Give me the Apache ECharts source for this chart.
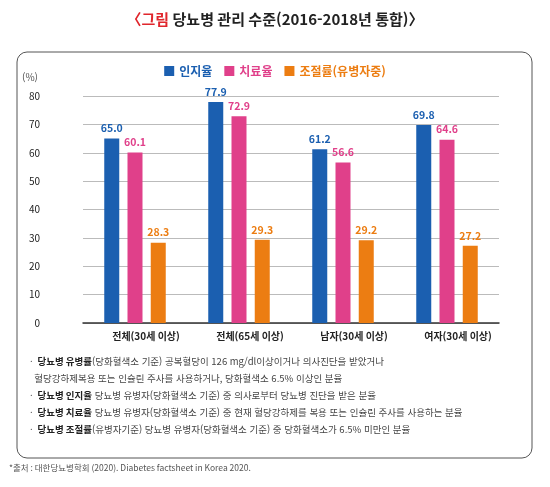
<!DOCTYPE html>
<html lang="ko">
<head>
<meta charset="UTF-8">
<style>
  * { margin: 0; padding: 0; }
  html, body { width: 100%; height: 100%; background: #fff; }
  #chart { width: 550px; height: 487px; }
</style>
</head>
<body>
<div id="chart"></div>
<script src="https://cdn.jsdelivr.net/npm/echarts@6/dist/echarts.min.js"></script>
<script>
var categories = ['전체(30세 이상)', '전체(65세 이상)', '남자(30세 이상)', '여자(30세 이상)'];
var awareness = [65.0, 77.9, 61.2, 69.8];
var treatment = [60.1, 72.9, 56.6, 64.6];
var control = [28.3, 29.3, 29.2, 27.2];
var seriesNames = ['인지율', '치료율', '조절률(유병자중)'];
var colors = ['#1b5fb0', '#e0408a', '#ec7d12'];

var notes = [
  ['· ', '당뇨병 유병률', '(당화혈색소 기준) 공복혈당이 126 mg/dl이상이거나 의사진단을 받았거나'],
  ['  ', '', '혈당강하제복용 또는 인슐린 주사를 사용하거나, 당화혈색소 6.5% 이상인 분율'],
  ['· ', '당뇨병 인지율', ' 당뇨병 유병자(당화혈색소 기준) 중 의사로부터 당뇨병 진단을 받은 분율'],
  ['· ', '당뇨병 치료율', ' 당뇨병 유병자(당화혈색소 기준) 중 현재 혈당강하제를 복용 또는 인슐린 주사를 사용하는 분율'],
  ['· ', '당뇨병 조절률', '(유병자기준) 당뇨병 유병자(당화혈색소 기준) 중 당화혈색소가 6.5% 미만인 분율']
];

var font = '"Noto Sans CJK KR", sans-serif';
var chart = echarts.init(document.getElementById('chart'));

var graphics = [
  { type: 'rect', shape: { x: 17, y: 52, width: 515, height: 406, r: 10 },
    style: { fill: '#fff', stroke: '#555', lineWidth: 1 }, z: -10 },
  { type: 'text', left: 'center', top: 12, style: {
      text: '{r|〈그림} 당뇨병 관리 수준(2016-2018년 통합)〉',
      rich: { r: { fill: '#e0262c', fontSize: 15, fontWeight: 'bold', fontFamily: font } },
      fill: '#222', fontSize: 15, fontWeight: 'bold', fontFamily: font } },
  { type: 'text', left: 22, top: 72, style: { text: '(%)', fill: '#555', fontSize: 10, fontFamily: font } },
  { type: 'text', left: 9, top: 464, style: {
      text: '*출처 : 대한당뇨병학회 (2020). Diabetes factsheet in Korea 2020.',
      fill: '#555', fontSize: 8.5, fontFamily: font } }
];
notes.forEach(function (n, i) {
  graphics.push({ type: 'text', left: 30, top: 357 + i * 17, style: {
    text: n[0] + '{b|' + n[1] + '}' + n[2],
    rich: { b: { fontWeight: 'bold', fill: '#222', fontSize: 9.5, fontFamily: font } },
    fill: '#444', fontSize: 9.5, fontFamily: font } });
});

var makeSeries = function (name, data, color) {
  return {
    name: name, type: 'bar', data: data, barWidth: 15, barGap: '55%',
    itemStyle: { color: color },
    label: { show: true, position: 'top', color: color, fontSize: 10.5, fontWeight: 'bold',
      fontFamily: font, formatter: function (p) { return p.value.toFixed(1); } }
  };
};

chart.setOption({
  color: colors,
  textStyle: { fontFamily: font },
  legend: {
    top: 60, left: 'center', itemWidth: 10, itemHeight: 10, itemGap: 12, icon: 'rect',
    data: seriesNames.map(function (n, i) {
      return { name: n, textStyle: { color: colors[i], fontSize: 12, fontWeight: 'bold' } };
    })
  },
  grid: { left: 83, right: 51, top: 96, bottom: 164 },
  xAxis: {
    type: 'category', data: categories,
    axisLine: { lineStyle: { color: '#333', width: 1.5 } }, axisTick: { show: false },
    axisLabel: { color: '#222', fontSize: 10, fontWeight: 'bold', margin: 8, padding: [0, 0, 0, 22] }
  },
  yAxis: {
    type: 'value', min: 0, max: 80, interval: 10,
    axisLabel: { color: '#222', fontSize: 10, margin: 43 },
    splitLine: { lineStyle: { color: '#bbb' } }
  },
  graphic: graphics,
  series: [
    makeSeries(seriesNames[0], awareness, colors[0]),
    makeSeries(seriesNames[1], treatment, colors[1]),
    makeSeries(seriesNames[2], control, colors[2])
  ]
});
</script>
</body>
</html>
